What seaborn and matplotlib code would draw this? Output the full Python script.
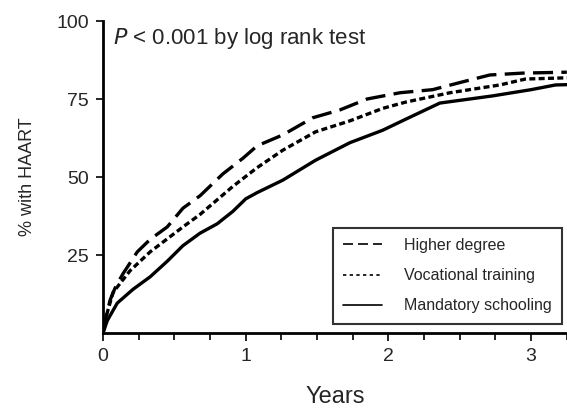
import numpy as np
import pandas as pd
import seaborn as sns
from matplotlib import pyplot as plt
from matplotlib.ticker import MultipleLocator

# values (years, % with HAART)
higher_x = [0, 0.02, 0.05, 0.09, 0.14, 0.24, 0.33, 0.45, 0.56, 0.68, 0.84, 0.98, 1.08,
            1.26, 1.47, 1.66, 1.85, 2.08, 2.31, 2.52, 2.71, 2.94, 3.25]
higher_y = [0, 5, 10.6, 15, 19, 26, 30, 34, 40, 44, 51, 56, 60,
            63.5, 69, 71.5, 75, 77, 78, 80.5, 82.7, 83.3, 83.6]

vocational_x = [0, 0.02, 0.07, 0.19, 0.33, 0.56, 0.68, 0.91, 1.08, 1.26, 1.49, 1.73,
                1.96, 2.12, 2.43, 2.78, 2.96, 3.25]
vocational_y = [0, 5, 13, 20, 26, 34, 38, 47, 53, 58.6, 64.5, 68,
                72, 74, 77, 79.5, 81.4, 81.8]

mandatory_x = [0, 0.03, 0.1, 0.21, 0.33, 0.45, 0.56, 0.68, 0.8, 0.91, 1.0, 1.08, 1.26,
               1.49, 1.73, 1.96, 2.12, 2.36, 2.73, 3.0, 3.17, 3.25]
mandatory_y = [0, 4, 9.6, 14, 18, 23, 28, 32, 35, 39, 43, 45, 49,
               55.4, 61, 65, 68.5, 73.7, 76, 78, 79.5, 79.6]

groups = ['Higher degree', 'Vocational training', 'Mandatory schooling']

df = pd.concat([
    pd.DataFrame({'years': higher_x, 'pct': higher_y, 'group': groups[0]}),
    pd.DataFrame({'years': vocational_x, 'pct': vocational_y, 'group': groups[1]}),
    pd.DataFrame({'years': mandatory_x, 'pct': mandatory_y, 'group': groups[2]}),
])

sns.set_style('ticks')
plt.rcParams['font.family'] = ['Liberation Sans', 'DejaVu Sans']

fig = plt.figure(figsize=(5.67, 4.08), dpi=100)
ax = fig.add_axes([0.1817, 0.1838, 0.818, 0.7647])

dashes = {groups[0]: (6, 2.5), groups[1]: (1.8, 1.0), groups[2]: ''}
sns.lineplot(data=df, x='years', y='pct', hue='group', style='group',
             palette=['black'] * 3, dashes=dashes, linewidth=2.4,
             estimator=None, sort=False, ax=ax, legend=False)

ax.set_xlim(0, 3.25)
ax.set_ylim(0, 100)
ax.set_yticks([25, 50, 75, 100])
ax.set_xticks([0, 1, 2, 3])
ax.xaxis.set_minor_locator(MultipleLocator(0.25))
ax.tick_params(axis='both', which='major', labelsize=14, width=1.2, length=6, color='black')
ax.tick_params(axis='x', which='major', pad=5)
ax.tick_params(axis='x', which='minor', width=1.2, length=5, color='black')
ax.tick_params(axis='y', which='major', length=5, pad=5)
sns.despine(ax=ax)
for side in ['left', 'bottom']:
    ax.spines[side].set_linewidth(2)
    ax.spines[side].set_color('black')

ax.set_xlabel('Years', fontsize=17, labelpad=15)
ax.set_ylabel('% with HAART', fontsize=13, labelpad=15)

ax.text(0.022, 0.985, r'$P$ < 0.001 by log rank test', transform=ax.transAxes,
        fontsize=16, va='top', ha='left')

handles = [plt.Line2D([], [], color='black', lw=1.2, dashes=(6, 3)),
           plt.Line2D([], [], color='black', lw=1.2, dashes=(2, 2)),
           plt.Line2D([], [], color='black', lw=1.2)]
leg = ax.legend(handles, groups, loc='lower right', bbox_to_anchor=(0.99, 0.03),
                frameon=True, fancybox=False, handlelength=2.4,
                borderpad=0.65, labelspacing=0.95, handletextpad=1.4,
                borderaxespad=0, prop={'size': 11.5})
leg.get_frame().set_edgecolor('black')
leg.get_frame().set_linewidth(1.5)

fig.savefig('out.png', dpi=100)
